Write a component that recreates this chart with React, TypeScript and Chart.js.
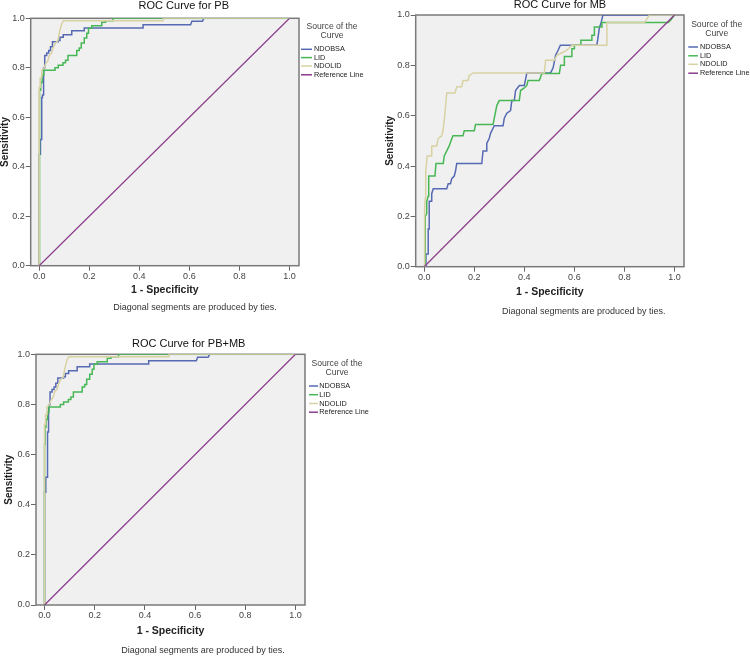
import React, { useEffect, useRef } from "react";
import { Chart, registerables } from "chart.js";

Chart.register(...registerables);

// ---------- data ----------
const SERIES_NAMES = ["NDOBSA", "LID", "NDOLID", "Reference Line"];
const SERIES_COLORS = ["#5669b3", "#47b755", "#d8d2a2", "#8b3c8c"];
const X_TICKS = [0, 0.2, 0.4, 0.6, 0.8, 1.0];
const Y_TICKS = [0, 0.2, 0.4, 0.6, 0.8, 1.0];
const LEGEND_TITLE = ["Source of the", "Curve"];
const FOOTNOTE = "Diagonal segments are produced by ties.";
const X_TITLE = "1 - Specificity";
const Y_TITLE = "Sensitivity";

const REFERENCE: number[][] = [[0, 0], [1, 1]];

// ROC for PB: [1 - specificity, sensitivity]
const PB_NDOBSA: number[][] = [
  [0, 0], [0, 0.45], [0.005, 0.45], [0.005, 0.51], [0.01, 0.51], [0.01, 0.68], [0.013, 0.68], [0.013, 0.69],
  [0.016, 0.69], [0.016, 0.78], [0.019, 0.8], [0.022, 0.8], [0.022, 0.85], [0.03, 0.85], [0.03, 0.86],
  [0.038, 0.86], [0.038, 0.87], [0.045, 0.87], [0.045, 0.885], [0.053, 0.885], [0.053, 0.905], [0.076, 0.905],
  [0.076, 0.91], [0.083, 0.91], [0.083, 0.923], [0.096, 0.923], [0.096, 0.934], [0.13, 0.934], [0.13, 0.95],
  [0.18, 0.95], [0.18, 0.961], [0.415, 0.961], [0.415, 0.974], [0.605, 0.974], [0.61, 0.988], [0.652, 0.988],
  [0.658, 1], [1, 1],
];
const PB_LID: number[][] = [
  [0, 0], [0, 0.64], [0.002, 0.64], [0.002, 0.71], [0.006, 0.71], [0.006, 0.74], [0.012, 0.74], [0.012, 0.77],
  [0.018, 0.77], [0.018, 0.79], [0.063, 0.79], [0.063, 0.8], [0.076, 0.8], [0.076, 0.81], [0.095, 0.81],
  [0.095, 0.82], [0.105, 0.82], [0.105, 0.83], [0.115, 0.83], [0.115, 0.85], [0.15, 0.85], [0.15, 0.87],
  [0.16, 0.87], [0.16, 0.88], [0.168, 0.88], [0.168, 0.9], [0.18, 0.9], [0.18, 0.92], [0.19, 0.92], [0.19, 0.94],
  [0.197, 0.94], [0.197, 0.96], [0.21, 0.96], [0.21, 0.97], [0.25, 0.97], [0.25, 0.984], [0.265, 0.984],
  [0.265, 0.99], [0.295, 0.99], [0.295, 1], [1, 1],
];
const PB_NDOLID: number[][] = [
  [0, 0], [0, 0.72], [0.004, 0.72], [0.004, 0.76], [0.01, 0.76], [0.01, 0.79], [0.02, 0.8], [0.025, 0.815],
  [0.035, 0.83], [0.04, 0.85], [0.05, 0.86], [0.055, 0.88], [0.065, 0.9], [0.075, 0.91], [0.08, 0.94],
  [0.085, 0.96], [0.09, 0.978], [0.097, 0.99], [0.495, 0.99], [0.495, 1], [1, 1],
];

// ROC for MB
const MB_NDOBSA: number[][] = [
  [0, 0], [0.007, 0], [0.007, 0.05], [0.016, 0.05], [0.016, 0.15], [0.02, 0.15], [0.02, 0.26], [0.03, 0.26],
  [0.03, 0.29], [0.036, 0.31], [0.09, 0.31], [0.096, 0.33], [0.105, 0.33], [0.11, 0.35], [0.12, 0.36],
  [0.125, 0.38], [0.13, 0.41], [0.23, 0.41], [0.235, 0.46], [0.25, 0.46], [0.25, 0.49], [0.26, 0.51],
  [0.265, 0.53], [0.28, 0.56], [0.315, 0.56], [0.32, 0.59], [0.33, 0.61], [0.345, 0.62], [0.35, 0.66],
  [0.36, 0.66], [0.365, 0.7], [0.38, 0.72], [0.4, 0.72], [0.41, 0.77], [0.505, 0.77], [0.515, 0.79],
  [0.525, 0.84], [0.535, 0.86], [0.544, 0.88], [0.69, 0.88], [0.7, 0.95], [0.707, 0.97], [0.714, 1], [1, 1],
];
const MB_LID: number[][] = [
  [0, 0], [0.004, 0], [0.004, 0.2], [0.01, 0.21], [0.01, 0.26], [0.016, 0.28], [0.018, 0.36], [0.043, 0.36],
  [0.047, 0.41], [0.076, 0.41], [0.08, 0.44], [0.09, 0.46], [0.1, 0.48], [0.107, 0.5], [0.115, 0.52],
  [0.155, 0.52], [0.16, 0.54], [0.2, 0.54], [0.205, 0.565], [0.275, 0.565], [0.28, 0.59], [0.29, 0.64],
  [0.3, 0.66], [0.38, 0.66], [0.385, 0.7], [0.4, 0.71], [0.41, 0.72], [0.415, 0.74], [0.46, 0.74],
  [0.47, 0.768], [0.54, 0.768], [0.545, 0.8], [0.56, 0.8], [0.56, 0.835], [0.59, 0.835], [0.59, 0.866],
  [0.6, 0.866], [0.6, 0.88], [0.626, 0.88], [0.626, 0.9], [0.67, 0.9], [0.67, 0.92], [0.68, 0.92],
  [0.68, 0.952], [0.71, 0.952], [0.71, 0.97], [0.975, 0.97], [0.985, 0.98], [1, 1],
];
const MB_NDOLID: number[][] = [
  [0, 0], [0, 0.22], [0.003, 0.23], [0.004, 0.27], [0.006, 0.38], [0.012, 0.44], [0.03, 0.44], [0.03, 0.48],
  [0.05, 0.48], [0.056, 0.51], [0.07, 0.52], [0.075, 0.54], [0.082, 0.6], [0.09, 0.69], [0.123, 0.69],
  [0.13, 0.715], [0.15, 0.715], [0.155, 0.74], [0.175, 0.74], [0.18, 0.76], [0.196, 0.77], [0.48, 0.77],
  [0.485, 0.82], [0.52, 0.82], [0.53, 0.84], [0.55, 0.85], [0.57, 0.86], [0.59, 0.88], [0.73, 0.88],
  [0.73, 0.97], [0.88, 0.97], [0.9, 1], [1, 1],
];

// ROC for PB+MB (reads the same as PB)
const PBMB_NDOBSA: number[][] = PB_NDOBSA;
const PBMB_LID: number[][] = PB_LID;
const PBMB_NDOLID: number[][] = PB_NDOLID;

// ---------- layout specs ----------
type Spec = {
  title: string;
  series: number[][][];
  left: number; top: number; width: number; height: number;
  area: { l: number; t: number; r: number; b: number };
  yTitleX: number; xTitleY: number;
  titleX: number; titleBase: number;
  footX: number; footY: number;
  lgTitleX: number; lgTitleY: number[];
  lgX0: number; lgX1: number; lgTextX: number; lgRows: number[];
};

const SPECS: Spec[] = [
  {
    title: "ROC Curve for PB", series: [PB_NDOBSA, PB_LID, PB_NDOLID],
    left: 0, top: 0, width: 375, height: 320,
    area: { l: 30.7, t: 18.3, r: 299, b: 265.7 },
    yTitleX: 5.2, xTitleY: 290, titleX: 183.8, titleBase: 8.5, footX: 195, footY: 308,
    lgTitleX: 332, lgTitleY: [27, 36], lgX0: 301, lgX1: 312, lgTextX: 314, lgRows: [49.3, 57.6, 66, 74.8],
  },
  {
    title: "ROC Curve for MB", series: [MB_NDOBSA, MB_LID, MB_NDOLID],
    left: 380, top: 0, width: 370, height: 320,
    area: { l: 35.7, t: 15, r: 304, b: 266.7 },
    yTitleX: 10.3, xTitleY: 292, titleX: 180, titleBase: 7.5, footX: 203.7, footY: 312,
    lgTitleX: 336.7, lgTitleY: [25, 33.5], lgX0: 308.3, lgX1: 318, lgTextX: 320, lgRows: [47, 55.8, 64.3, 73.2],
  },
  {
    title: "ROC Curve for PB+MB", series: [PBMB_NDOBSA, PBMB_LID, PBMB_NDOLID],
    left: 0, top: 330, width: 375, height: 327,
    area: { l: 36, t: 24.3, r: 305, b: 275 },
    yTitleX: 9.5, xTitleY: 301, titleX: 188.7, titleBase: 16.7, footX: 203, footY: 321,
    lgTitleX: 337, lgTitleY: [33.5, 42.3], lgX0: 309, lgX1: 318, lgTextX: 319.3, lgRows: [56, 64.7, 73.5, 82.2],
  },
];

const FONT = "'Liberation Sans', Arial, sans-serif";

const decorPlugin = {
  id: "rocDecor",
  beforeDraw(chart: any) {
    const { ctx, chartArea: ca } = chart;
    ctx.save();
    ctx.fillStyle = "#f0f0f0";
    ctx.fillRect(ca.left, ca.top, ca.right - ca.left, ca.bottom - ca.top);
    ctx.restore();
  },
  beforeDatasetsDraw(chart: any) {
    const { ctx, chartArea: ca } = chart;
    ctx.save();
    ctx.strokeStyle = "#7a7a7a";
    ctx.lineWidth = 1.5;
    ctx.strokeRect(ca.left, ca.top, ca.right - ca.left, ca.bottom - ca.top);
    ctx.restore();
  },
  afterDraw(chart: any, _a: any, opts: any) {
    const s: Spec = opts.spec;
    const ctx = chart.ctx;
    ctx.save();
    // title
    ctx.fillStyle = "#111";
    ctx.font = `11px ${FONT}`;
    ctx.textAlign = "center";
    ctx.textBaseline = "alphabetic";
    ctx.fillText(s.title, s.titleX, s.titleBase);
    // footnote
    ctx.fillStyle = "#333";
    ctx.font = `9px ${FONT}`;
    ctx.textBaseline = "middle";
    ctx.fillText(FOOTNOTE, s.footX, s.footY);
    // legend title
    ctx.fillStyle = "#444";
    ctx.font = `8.6px ${FONT}`;
    LEGEND_TITLE.forEach((t, i) => ctx.fillText(t, s.lgTitleX, s.lgTitleY[i]));
    // legend items
    ctx.font = `7.3px ${FONT}`;
    ctx.textAlign = "left";
    SERIES_NAMES.forEach((name, i) => {
      const y = s.lgRows[i];
      ctx.strokeStyle = SERIES_COLORS[i];
      ctx.lineWidth = 1.5;
      ctx.beginPath();
      ctx.moveTo(s.lgX0, y);
      ctx.lineTo(s.lgX1, y);
      ctx.stroke();
      ctx.fillStyle = "#222";
      ctx.fillText(name, s.lgTextX, y);
    });
    ctx.restore();
  },
};

function RocChart({ spec }: { spec: Spec }) {
  const ref = useRef<HTMLCanvasElement | null>(null);
  useEffect(() => {
    if (!ref.current) return;
    const s = spec;
    const half = 5;
    const padL = Math.max(0, s.yTitleX - half);
    const yAxisW = s.area.l - padL;
    const xAxisH = s.xTitleY - s.area.b + 5.25;
    const padB = s.height - s.area.b - xAxisH;
    const toPts = (arr: number[][]) => arr.map(([x, y]) => ({ x, y }));
    const datasets: any[] = [
      ...s.series.map((arr, i) => ({
        label: SERIES_NAMES[i],
        data: toPts(arr),
        borderColor: SERIES_COLORS[i],
        borderWidth: 1.5,
        order: 3 - i,
      })),
      {
        label: SERIES_NAMES[3],
        data: toPts(REFERENCE),
        borderColor: SERIES_COLORS[3],
        borderWidth: 1.3,
        order: 0,
      },
    ].map((d) => ({ ...d, showLine: true, pointRadius: 0, pointHoverRadius: 0, tension: 0, fill: false }));

    const tickFont = { size: 9, family: FONT };
    const chart = new Chart(ref.current, {
      type: "scatter",
      data: { datasets },
      plugins: [decorPlugin],
      options: {
        animation: false,
        responsive: false,
        devicePixelRatio: 1,
        events: [],
        layout: {
          padding: { left: padL, top: s.area.t, right: s.width - s.area.r, bottom: padB },
        },
        plugins: {
          legend: { display: false },
          title: { display: false },
          tooltip: { enabled: false },
          rocDecor: { spec: s },
        } as any,
        scales: {
          x: {
            type: "linear",
            min: -0.034,
            max: 1.038,
            afterBuildTicks: (sc: any) => { sc.ticks = X_TICKS.map((v) => ({ value: v })); },
            afterFit: (sc: any) => { sc.height = xAxisH; },
            grid: { display: true, drawOnChartArea: false, drawTicks: true, tickLength: 5, color: "#666", lineWidth: 1 },
            border: { display: false },
            ticks: {
              padding: 0, color: "#444", font: tickFont, maxRotation: 0, autoSkip: false,
              callback: (v: any) => Number(v).toFixed(1),
            },
            title: { display: true, text: X_TITLE, font: { size: 10.5, weight: "bold", family: FONT, lineHeight: 1 }, color: "#222", padding: 0 },
          },
          y: {
            type: "linear",
            min: 0,
            max: 1,
            afterBuildTicks: (sc: any) => { sc.ticks = Y_TICKS.map((v) => ({ value: v })); },
            afterFit: (sc: any) => { sc.width = yAxisW; },
            grid: { display: true, drawOnChartArea: false, drawTicks: true, tickLength: 5, color: "#666", lineWidth: 1 },
            border: { display: false },
            ticks: {
              padding: 1, color: "#444", font: tickFont, autoSkip: false,
              callback: (v: any) => Number(v).toFixed(1),
            },
            title: { display: true, text: Y_TITLE, font: { size: 10, weight: "bold", family: FONT, lineHeight: 1 }, color: "#222", padding: 0 },
          },
        },
      } as any,
    });
    return () => chart.destroy();
  }, [spec]);

  return (
    <canvas
      ref={ref}
      width={spec.width}
      height={spec.height}
      style={{ position: "absolute", left: spec.left, top: spec.top, width: spec.width, height: spec.height }}
    />
  );
}

export default function App() {
  return (
    <div style={{ position: "absolute", left: 0, top: 0, width: 750, height: 657, background: "#fff", overflow: "hidden" }}>
      {SPECS.map((s) => (
        <RocChart key={s.title} spec={s} />
      ))}
    </div>
  );
}
